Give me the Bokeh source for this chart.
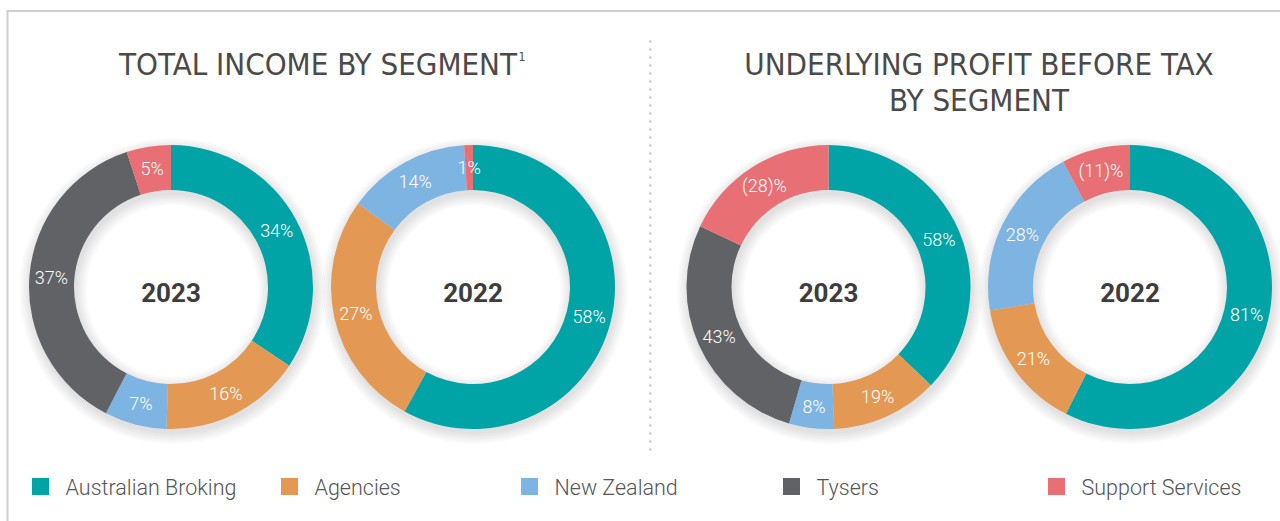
import numpy as np
from bokeh.plotting import figure
from bokeh.models import Range1d, Label, ColumnDataSource
from bokeh.core.properties import value
from bokeh.embed import file_html
from bokeh.resources import INLINE

# ---------------- data ----------------
segments = ["Australian Broking", "Agencies", "New Zealand", "Tysers", "Support Services"]
colors = ["#00A4A6", "#E39953", "#7EB4E1", "#616265", "#E87075"]
income_2023 = [34, 16, 7, 37, 5]
income_2022 = [58, 27, 14, 0, 1]
profit_2023 = [58, 19, 8, 43, -28]
profit_2022 = [81, 21, 28, 0, -11]
year_labels = ["2023", "2022", "2023", "2022"]
title_income = "TOTAL INCOME BY SEGMENT"
title_profit_1 = "UNDERLYING PROFIT BEFORE TAX"
title_profit_2 = "BY SEGMENT"

# ---------------- layout ----------------
W, H = 1280, 521
def X(xi):
    return xi
def Y(yi):
    return H - yi

TITLE_FONT = "'Liberation Sans Narrow', 'DejaVu Sans Condensed', 'Roboto'"
LIGHT_FONT = "'Roboto Light', 'Roboto'"
BOLD_FONT = "Roboto"

p = figure(width=W, height=H, x_range=Range1d(0, W), y_range=Range1d(0, H),
           output_backend="svg", toolbar_location=None, min_border=0)
p.axis.visible = False
p.grid.visible = False
p.outline_line_color = None
p.background_fill_color = "white"
p.border_fill_color = "white"

# frame lines (top and left)
p.segment(x0=[X(6), X(7)], y0=[Y(10.5), Y(10)], x1=[X(1280), X(7)], y1=[Y(10.5), Y(521)],
          line_color="#d0d0d0", line_width=2)

# dotted separator
p.segment(x0=[X(650)], y0=[Y(40)], x1=[X(650)], y1=[Y(456)],
          line_color="#bdbdbd", line_width=2, line_dash="2 6")

R_OUT, R_IN, R_LAB = 142, 97, 120
centers = [(170.5, 286.5), (472.5, 286.5), (828, 286.5), (1129.5, 286.5)]
datasets = [income_2023, income_2022, profit_2023, profit_2022]


def fmt(v):
    return f"({abs(v)})%" if v < 0 else f"{v}%"


for (cxi, cyi), vals, yr in zip(centers, datasets, year_labels):
    cx, cy = X(cxi), Y(cyi)
    # soft shadow
    for s in [1, 3, 5, 7, 9, 11]:
        p.annulus(x=[cx + 1.5], y=[cy - 4], inner_radius=R_IN - s, outer_radius=R_OUT + s,
                  fill_color="black", fill_alpha=0.018, line_color=None)
    v = np.array(vals, dtype=float)
    a = np.abs(v)
    keep = a > 0
    frac = a / a.sum()
    cum = np.concatenate([[0], np.cumsum(frac)])
    start = np.pi / 2 - cum[:-1] * 2 * np.pi
    end = np.pi / 2 - cum[1:] * 2 * np.pi
    mid = (start + end) / 2
    src = ColumnDataSource(dict(
        start=start[keep], end=end[keep],
        color=[c for c, k in zip(colors, keep) if k],
        lx=(cx + R_LAB * np.cos(mid))[keep], ly=(cy + R_LAB * np.sin(mid))[keep],
        txt=[fmt(int(x)) for x, k in zip(vals, keep) if k],
    ))
    p.annular_wedge(x=cx, y=cy, inner_radius=R_IN, outer_radius=R_OUT,
                    start_angle="start", end_angle="end", direction="clock",
                    fill_color="color", line_color=None, source=src)
    p.text(x="lx", y="ly", text="txt", source=src, text_color="white",
           text_font=value(LIGHT_FONT), text_font_size="18px",
           text_align="center", text_baseline="middle")
    p.add_layout(Label(x=cx, y=Y(292), text=yr, text_font=BOLD_FONT, text_font_style="bold",
                       text_font_size="26px", text_color="#3d3d3d",
                       text_align="center", text_baseline="middle"))

# titles
TS = "31px"
p.add_layout(Label(x=X(317.5), y=Y(63), text=title_income, text_font=TITLE_FONT,
                   text_font_size=TS, text_color="#4a4a4a",
                   text_align="center", text_baseline="middle"))
p.add_layout(Label(x=X(518), y=Y(56), text="1", text_font=TITLE_FONT,
                   text_font_size="12px", text_color="#4a4a4a",
                   text_align="left", text_baseline="middle"))
p.add_layout(Label(x=X(978.5), y=Y(63), text=title_profit_1, text_font=TITLE_FONT,
                   text_font_size=TS, text_color="#4a4a4a",
                   text_align="center", text_baseline="middle"))
p.add_layout(Label(x=X(978.5), y=Y(99), text=title_profit_2, text_font=TITLE_FONT,
                   text_font_size=TS, text_color="#4a4a4a",
                   text_align="center", text_baseline="middle"))

# legend
legend_x = [40, 289, 529, 791, 1056]
leg = ColumnDataSource(dict(
    x=[X(v) for v in legend_x], tx=[X(v + 25) for v in legend_x],
    y=[Y(486)] * len(segments), ty=[Y(487)] * len(segments),
    color=colors, name=segments,
))
p.rect(x="x", y="y", width=17, height=17, fill_color="color", line_color=None, source=leg)
p.text(x="tx", y="ty", text="name", source=leg, text_color="#555555",
       text_font=value(LIGHT_FONT), text_font_size="21.5px",
       text_align="left", text_baseline="middle")

open("out.html", "w").write(file_html(p, INLINE))
